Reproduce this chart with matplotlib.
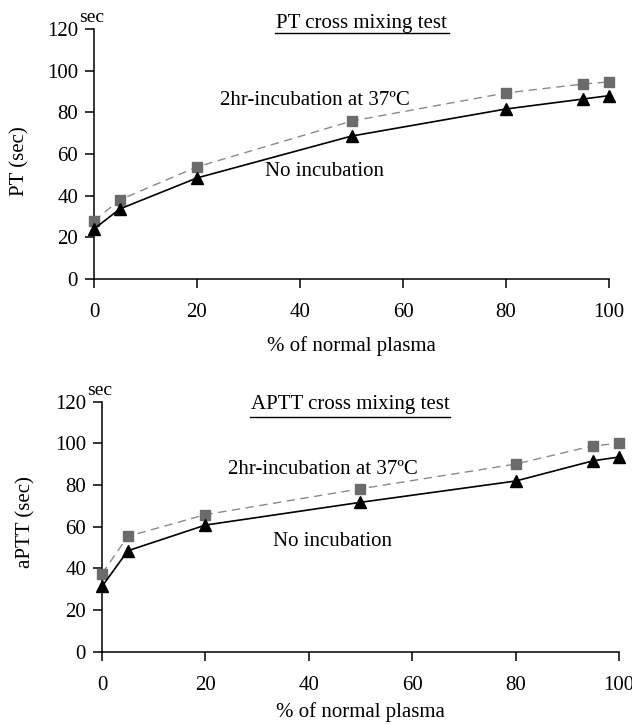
import matplotlib
matplotlib.use("Agg")
import matplotlib.pyplot as plt

plt.rcParams["font.family"] = ["Liberation Serif", "DejaVu Serif"]
font_size = 15

# % of normal plasma
x_pct = [0, 5, 20, 50, 80, 95, 100]

# PT (sec)
pt_incub = [27.8, 38.0, 53.8, 75.8, 89.3, 93.6, 94.6]
pt_none = [24.0, 33.6, 48.5, 68.6, 81.6, 86.4, 88.0]

# aPTT (sec)
aptt_incub = [37.5, 55.4, 65.8, 78.2, 90.0, 98.8, 99.9]
aptt_none = [31.4, 48.5, 60.8, 71.7, 81.9, 91.6, 93.4]

yticks = [0, 20, 40, 60, 80, 100, 120]
xticks = [0, 20, 40, 60, 80, 100]


def draw_panel(ax, y_incub, y_none, title, ylabel, title_span, title_y, line_y,
               txt_incub, txt_none, xlabel_pad):
    ax.plot(x_pct, y_incub, "--", color="#8a8a8a", lw=1.0, dashes=(6, 4),
            marker="s", ms=7.5, mfc="#6b6b6b", mec="#6b6b6b", clip_on=False, zorder=3)
    ax.plot(x_pct, y_none, "-", color="black", lw=1.2,
            marker="^", ms=8.5, mfc="black", mec="black", clip_on=False, zorder=4)

    ax.set_xlim(0, 100)
    ax.set_ylim(0, 120)
    ax.set_xticks(xticks)
    ax.set_yticks(yticks)
    ax.spines["top"].set_visible(False)
    ax.spines["right"].set_visible(False)
    for s in ("left", "bottom"):
        ax.spines[s].set_linewidth(1.1)
    ax.tick_params(axis="x", direction="out", length=6.5, width=1.1, pad=11,
                   labelsize=font_size)
    ax.tick_params(axis="y", direction="out", length=6.5, width=1.1, pad=5,
                   labelsize=font_size)

    ax.set_xlabel("% of normal plasma", fontsize=font_size, labelpad=xlabel_pad)
    ax.set_ylabel(ylabel, fontsize=font_size)

    ax.text(-0.005, 1.045, "sec", transform=ax.transAxes, ha="center",
            va="center", fontsize=14)

    x0, x1 = title_span
    ax.text((x0 + x1) / 2, title_y, title, transform=ax.transAxes,
            ha="center", va="baseline", fontsize=font_size)
    ax.plot([x0, x1], [line_y, line_y], color="black", lw=1.0,
            transform=ax.transAxes, clip_on=False)

    ax.text(txt_incub[0], txt_incub[1], "2hr-incubation at 37ºC",
            ha="left", va="center", fontsize=font_size)
    ax.text(txt_none[0], txt_none[1], "No incubation",
            ha="left", va="center", fontsize=font_size)


def main():
    fig = plt.figure(figsize=(6.32, 7.25), dpi=100)
    ax1 = fig.add_axes([0.1487, 0.6152, 0.815, 0.3448])
    ax2 = fig.add_axes([0.1614, 0.1007, 0.818, 0.3455])

    draw_panel(ax1, pt_incub, pt_none, "PT cross mixing test", "PT (sec)",
               (0.351, 0.689), 1.004, 0.984, (24.5, 85.9), (33.2, 51.4), 10)
    draw_panel(ax2, aptt_incub, aptt_none, "APTT cross mixing test", "aPTT (sec)",
               (0.286, 0.673), 0.97, 0.939, (24.4, 87.3), (33.1, 52.8), 5)

    ax1.yaxis.set_label_coords(-0.126, 0.47)
    ax2.yaxis.set_label_coords(-0.128, 0.52)

    fig.savefig("out.png", dpi=100)


if __name__ == "__main__":
    main()
